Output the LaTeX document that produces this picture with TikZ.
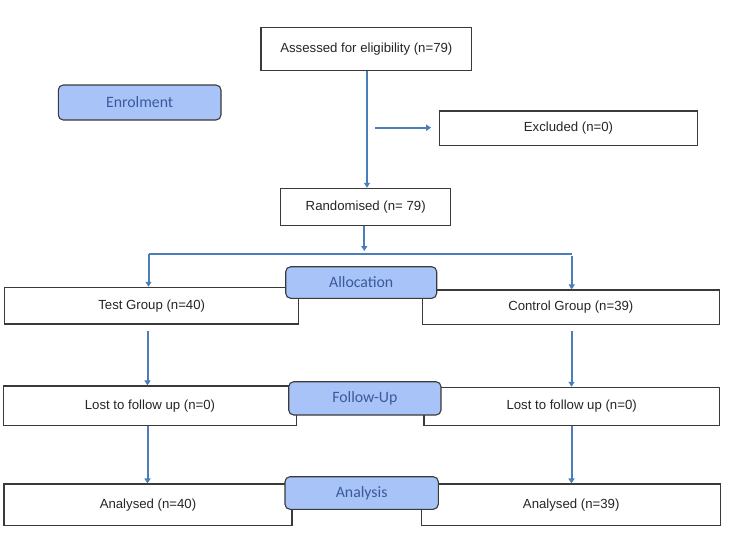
\documentclass[tikz,border=0pt]{standalone}
\usepackage{fontspec}
\setmainfont{Liberation Sans}
\newfontfamily\labfont{Carlito}
\usetikzlibrary{arrows.meta}
\definecolor{arrowblue}{HTML}{4A7EBB}
\definecolor{labfill}{HTML}{A7C3F7}
\definecolor{labtext}{HTML}{3B5A9E}
\definecolor{boxline}{HTML}{3A3A3A}
\tikzset{
  wbox/.style={draw=boxline, line width=1.1pt, fill=white, inner sep=0pt,
    font=\fontsize{13.2}{15}\selectfont, text=black!85},
  lab/.style={draw=boxline, line width=1.1pt, fill=labfill, rounded corners=5pt,
    inner sep=0pt, font=\labfont\fontsize{15.8}{18}\selectfont, text=labtext},
  conn/.style={draw=arrowblue, line width=2pt},
  arr/.style={conn, -{Triangle[width=6pt,length=5pt]}}
}
\begin{document}
\begin{tikzpicture}[x=1pt,y=-1pt]
\useasboundingbox (0,0) rectangle (730,538);
% white boxes
\node[wbox, minimum width=210.7pt, minimum height=42.6pt] (assess) at (366.35,49) {Assessed for eligibility (n=79)};
\node[wbox, minimum width=258.4pt, minimum height=34.7pt] (excl) at (568.5,128.35) {Excluded (n=0)};
\node[wbox, minimum width=170pt, minimum height=37.4pt] (rand) at (365.7,207) {Randomised (n= 79)};
\node[wbox, minimum width=294pt, minimum height=36.7pt] (test) at (151.7,305.65) {Test Group (n=40)};
\node[wbox, minimum width=297pt, minimum height=34.3pt] (ctrl) at (570.8,307.15) {Control Group (n=39)};
\node[wbox, minimum width=293.4pt, minimum height=39.7pt] (lostL) at (150,405.85) {Lost to follow up (n=0)};
\node[wbox, minimum width=295.3pt, minimum height=38.4pt] (lostR) at (571.65,406.5) {Lost to follow up (n=0)};
\node[wbox, minimum width=288pt, minimum height=41.7pt] (anL) at (148,504.85) {Analysed (n=40)};
\node[wbox, minimum width=299pt, minimum height=41.7pt] (anR) at (571.2,504.85) {Analysed (n=39)};
% blue stage labels
\node[lab, minimum width=162.7pt, minimum height=35pt] (enrol) at (139.65,102.5) {Enrolment};
\node[lab, minimum width=151pt, minimum height=31.6pt] (alloc) at (361.2,282.5) {Allocation};
\node[lab, minimum width=152.3pt, minimum height=33.3pt] (follow) at (364.85,398.35) {Follow-Up};
\node[lab, minimum width=153.3pt, minimum height=32.6pt] (analysis) at (361.65,493) {Analysis};
% helper coordinates
\coordinate (main) at (367,0);
\coordinate (exA) at (375,127.7);
\coordinate (split) at (364.3,254);
\coordinate (sL) at (148.5,254);
\coordinate (sR) at (571.7,254);
\coordinate (colL) at (147.5,0);
\coordinate (colR) at (571.5,0);
% connectors
\draw[arr] (main |- assess.south) -- (main |- rand.north);
\draw[arr, shorten >=7.6pt] (exA) -- (exA -| excl.west);
\draw[arr, shorten >=3pt] (split |- rand.south) -- (split);
\draw[conn] (sL) -- (sR);
\draw[arr] (sL) -- (sL |- test.north);
\draw[arr, shorten <=1.5pt] (sR) -- (sR |- ctrl.north);
\draw[arr, shorten <=6pt] (colL |- test.south) -- (colL |- lostL.north);
\draw[arr, shorten <=6pt] (colR |- ctrl.south) -- (colR |- lostR.north);
\draw[arr] (colL |- lostL.south) -- (colL |- anL.north);
\draw[arr] (colR |- lostR.south) -- (colR |- anR.north);
\end{tikzpicture}
\end{document}
